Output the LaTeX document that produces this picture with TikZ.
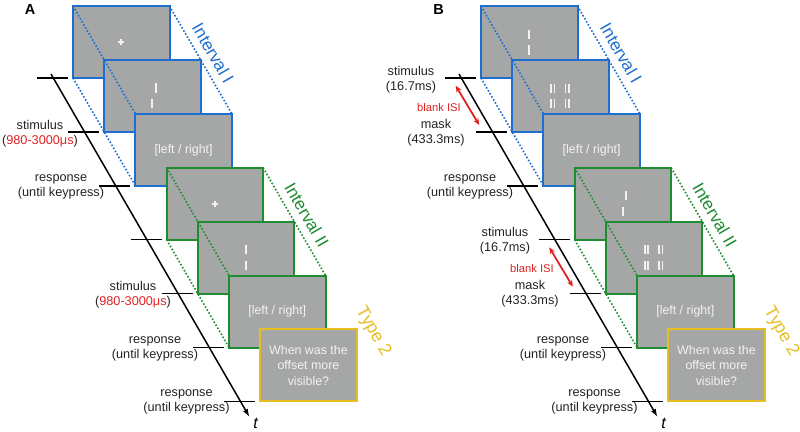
\documentclass[tikz,border=0pt]{standalone}
\usepackage{fontspec}
\setmainfont{Liberation Sans}
\usetikzlibrary{arrows.meta,calc}
\definecolor{boxgray}{RGB}{165,167,167}
\definecolor{blueC}{RGB}{30,110,208}
\definecolor{greenC}{RGB}{30,140,48}
\definecolor{goldC}{RGB}{230,190,35}
\definecolor{redC}{RGB}{225,35,35}
\definecolor{txtC}{RGB}{35,35,35}
\definecolor{barC}{RGB}{242,242,242}

\tikzset{
  stim/.style={draw=#1, fill=boxgray, line width=2pt, minimum width=96.5pt, minimum height=72pt, inner sep=0pt, outer sep=0pt, anchor=north west},
  guide/.style={draw=#1, line width=1.6pt, dash pattern=on 1.6pt off 1.9pt},
  tickline/.style={draw=black, line width=1.5pt},
  timeline/.style={draw=black, line width=1.5pt, -{Latex[length=8pt,width=5.5pt]}},
  isi/.style={draw=redC, line width=1.8pt, {Stealth[length=6.5pt,width=5.5pt]}-{Stealth[length=6.5pt,width=5.5pt]}},
  lbl/.style={text=txtC, align=center, inner sep=0pt, font=\fontsize{12.7}{15}\selectfont},
  isilbl/.style={text=redC, inner sep=0pt, font=\fontsize{11.2}{13}\selectfont},
  inside/.style={text=barC, align=center, inner sep=0pt, font=\fontsize{12.4}{15.6}\selectfont},
  bar/.style={draw=barC, line width=2pt},
  mbar/.style={draw=barC, line width=1.7pt},
  intlbl/.style={text=#1, rotate=-60, inner sep=0pt, font=\fontsize{17.2}{20}\selectfont},
  typelbl/.style={text=#1, rotate=-60, inner sep=0pt, font=\fontsize{17.8}{20}\selectfont},
  panlbl/.style={text=black, inner sep=0pt, font=\fontsize{14.5}{16}\selectfont\bfseries},
  tlbl/.style={text=black, inner sep=0pt, font=\fontsize{16}{18}\selectfont\itshape},
}

\newcommand{\drawpanel}[2]{%
  \foreach \i/\c in {1/blueC,2/blueC,3/blueC,4/greenC,5/greenC,6/greenC,7/goldC}{%
    \node[stim=\c] (#1\i) at ({#2+73+31.2*(\i-1)},{6+53.9*(\i-1)}) {};
  }
  \draw[guide=blueC] (#11.north west) -- (#13.north west);
  \draw[guide=blueC] (#11.south west) -- (#13.south west);
  \draw[guide=blueC] (#11.north east) -- (#13.north east);
  \draw[guide=greenC] (#14.north west) -- (#16.north west);
  \draw[guide=greenC] (#14.south west) -- (#16.south west);
  \draw[guide=greenC] (#14.north east) -- (#16.north east);
  \foreach \i in {1,...,7}{%
    \coordinate (#1tl\i) at ($(#1\i.south west)+(-36,0)$);
    \coordinate (#1tr\i) at ($(#1\i.south west)+(-5,0)$);
    \draw[tickline] (#1tl\i) -- (#1tr\i);
  }
  \coordinate (#1ts) at ({#2+51},74);
  \coordinate (#1te) at ({#2+249.5},417);
  \draw[timeline] (#1ts) -- (#1te);
  \node[tlbl] (#1t) at ({#2+255.5},423) {t};
  \node[intlbl=blueC] (#1int1) at ($(#11.north east)+(43.7,47.2)$) {Interval I};
  \node[intlbl=greenC] (#1int2) at ($(#14.north east)+(43.7,47.2)$) {Interval II};
  \node[typelbl=goldC] (#1type) at ($(#17.north east)+(16.3,2.1)$) {Type 2};
  \node[inside] (#13t) at (#13.center) {[left / right]};
  \node[inside] (#16t) at (#16.center) {[left / right]};
  \node[inside] (#17t) at (#17.center) {When was the\\offset more\\visible?};
}

\begin{document}
\begin{tikzpicture}[x=1pt,y=-1pt]
\useasboundingbox (0,0) rectangle (800,431);
\fill[white] (0,0) rectangle (800,431);

\drawpanel{a}{0}
\drawpanel{b}{408}

% panel letters
\node[panlbl] (pA) at (30,10) {A};
\node[panlbl] (pB) at (438.5,10) {B};

% panel A contents
\begin{scope}[shift={(a1.center)}]
  \draw[bar] (-3.2,0) -- (3.2,0) (0,-3.2) -- (0,3.2);
\end{scope}
\begin{scope}[shift={(a4.center)}]
  \draw[bar] (-3.2,0) -- (3.2,0) (0,-3.2) -- (0,3.2);
\end{scope}
\begin{scope}[shift={(a2.center)}]
  \draw[bar] (3.5,-12.5) -- (3.5,-3.3) (0,3.3) -- (0,12.5);
\end{scope}
\begin{scope}[shift={(a5.center)}]
  \draw[bar] (0,-12.5) -- (0,-3.3) (0,3.3) -- (0,12.5);
\end{scope}

% panel B contents
\begin{scope}[shift={(b1.center)}]
  \draw[bar] (0,-12.5) -- (0,-3.3) (0,3.3) -- (0,12.5);
\end{scope}
\begin{scope}[shift={(b4.center)}]
  \draw[bar] (3.5,-12.5) -- (3.5,-3.3) (0.3,3.3) -- (0.3,12.5);
\end{scope}
\foreach \m in {b2,b5}{
  \begin{scope}[shift={(\m.center)}]
    \foreach \xx in {-9.4,-5.9,5,8.5}{
      \draw[mbar] (\xx,-12.3) -- (\xx,-3.3) (\xx,3.3) -- (\xx,12.3);
    }
  \end{scope}
}

% panel A labels
\node[lbl] (las1) at (40,134) {stimulus\\(\textcolor{redC}{980-3000μs})};
\node[lbl] (lar1) at (61,186.5) {response\\(until keypress)};
\node[lbl] (las2) at (133,295) {stimulus\\(\textcolor{redC}{980-3000μs})};
\node[lbl] (lar2) at (155,348.5) {response\\(until keypress)};
\node[lbl] (lar3) at (186.5,402) {response\\(until keypress)};

% panel B labels
\node[lbl] (lbs1) at (411,79.5) {stimulus\\(16.7ms)};
\node[lbl] (lbm1) at (436,132.5) {mask\\(433.3ms)};
\node[lbl] (lbr1) at (470,186.5) {response\\(until keypress)};
\node[lbl] (lbs2) at (505,240.5) {stimulus\\(16.7ms)};
\node[lbl] (lbm2) at (530,294) {mask\\(433.3ms)};
\node[lbl] (lbr2) at (563,348.5) {response\\(until keypress)};
\node[lbl] (lbr3) at (594.5,402) {response\\(until keypress)};

\node[isilbl] (isi1) at (439,107) {blank ISI};
\node[isilbl] (isi2) at (532,268) {blank ISI};
\coordinate (bi1s) at ($(b1.south west)+(-25.3,7.7)$);
\coordinate (bi1e) at ($(b1.south west)+(-1.8,47)$);
\draw[isi] (bi1s) -- (bi1e);
\coordinate (bi2s) at ($(b4.south west)+(-25.3,7.7)$);
\coordinate (bi2e) at ($(b4.south west)+(-1.8,47)$);
\draw[isi] (bi2s) -- (bi2e);
\end{tikzpicture}
\end{document}
